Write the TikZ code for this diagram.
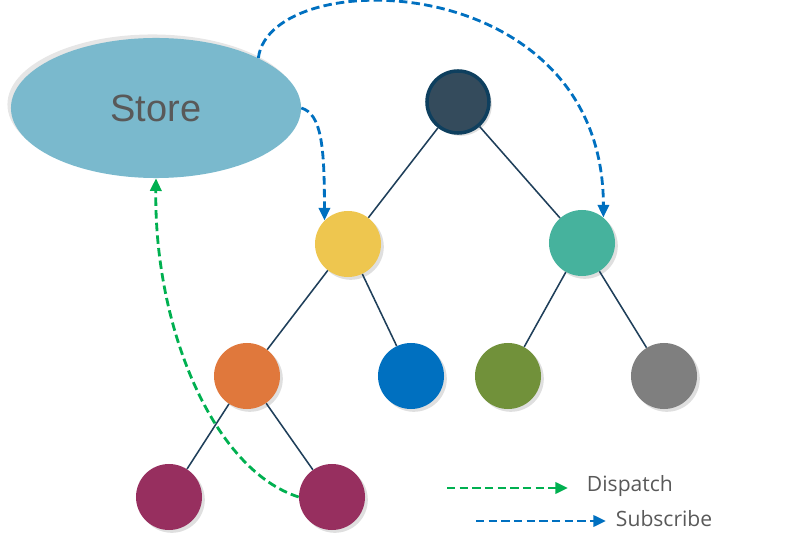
\documentclass[tikz,border=0pt]{standalone}
\usepackage{fontspec}
\setmainfont{Liberation Sans}
\newfontfamily\legendfont{Open Sans}
\usetikzlibrary{shapes.geometric, arrows.meta, shadows}
\definecolor{storeblue}{HTML}{7AB9CD}
\definecolor{rootfill}{HTML}{344B5C}
\definecolor{rootedge}{HTML}{0E3F5E}
\definecolor{linkcol}{HTML}{1F3F5A}
\definecolor{subcol}{HTML}{0070C0}
\definecolor{dispcol}{HTML}{00B050}
\definecolor{txtgray}{HTML}{595959}
\definecolor{yelfill}{HTML}{EEC64F}
\definecolor{tealfill}{HTML}{46B29D}
\definecolor{orngfill}{HTML}{E0783C}
\definecolor{blufill}{HTML}{0070C0}
\definecolor{olivefill}{HTML}{71913A}
\definecolor{gryfill}{HTML}{7F7F7F}
\definecolor{purfill}{HTML}{972F5F}

\begin{document}
\begin{tikzpicture}[
    x=0.025cm, y=-0.025cm,
    comp/.style={circle, minimum size=1.65cm, inner sep=0pt,
        drop shadow={shadow xshift=2pt, shadow yshift=-2pt, opacity=0.25}},
    store/.style={ellipse, fill=storeblue, minimum width=7.25cm, minimum height=3.5cm,
        text=txtgray, font=\fontsize{27}{30}\selectfont,
        drop shadow={shadow xshift=-2.5pt, shadow yshift=2.5pt, opacity=0.2}},
    link/.style={linkcol, line width=1.1pt},
    sub/.style={-{Triangle[length=9pt, width=8pt]}, subcol, line width=2pt, dash pattern=on 6pt off 3pt},
    disp/.style={-{Triangle[length=9pt, width=8pt]}, dispcol, line width=2pt, dash pattern=on 6pt off 3pt},
    legend/.style={text=txtgray, font=\legendfont\fontsize{15}{18}\selectfont, anchor=west}
]
\useasboundingbox (0,0) rectangle (789,550);

% Store
\node[store] (store) at (156,108) {Store};

% Component tree
\node[comp, fill=rootfill, draw=rootedge, line width=2.5pt, minimum size=1.55cm] (root) at (458,102) {};
\node[comp, fill=yelfill] (yel) at (348,244) {};
\node[comp, fill=tealfill] (teal) at (582,243) {};
\node[comp, fill=orngfill] (orng) at (247,376) {};
\node[comp, fill=blufill] (blu) at (411,376) {};
\node[comp, fill=olivefill] (olive) at (508,376) {};
\node[comp, fill=gryfill] (gry) at (664,376) {};
\node[comp, fill=purfill] (purl) at (169,497) {};
\node[comp, fill=purfill] (purr) at (332,497) {};

% Tree edges
\draw[link] (root) -- (yel);
\draw[link] (root) -- (teal);
\draw[link] (yel) -- (orng);
\draw[link] (yel) -- (blu);
\draw[link] (teal) -- (olive);
\draw[link] (teal) -- (gry);
\draw[link] (orng) -- (purl);
\draw[link] (orng) -- (purr);

% Subscribe / dispatch
\draw[sub] (store.east) .. controls +(20,6) and +(0,-75) .. (yel.135);
\draw[sub] (store.26) .. controls +(12,-95) and +(0,-250) .. (teal.50);
\draw[disp] (purr.west) .. controls +(-85,-27) and +(-2,150) .. (store.south);

% Legend
\coordinate (d1) at (447,488);
\coordinate (d2) at (568,488);
\node[legend] (dlab) at (582,486) {Dispatch};
\draw[disp] (d1) -- (d2);
\coordinate (s1) at (476,521);
\coordinate (s2) at (606,521);
\node[legend] (slab) at (611,519) {Subscribe};
\draw[sub] (s1) -- (s2);
\end{tikzpicture}
\end{document}
